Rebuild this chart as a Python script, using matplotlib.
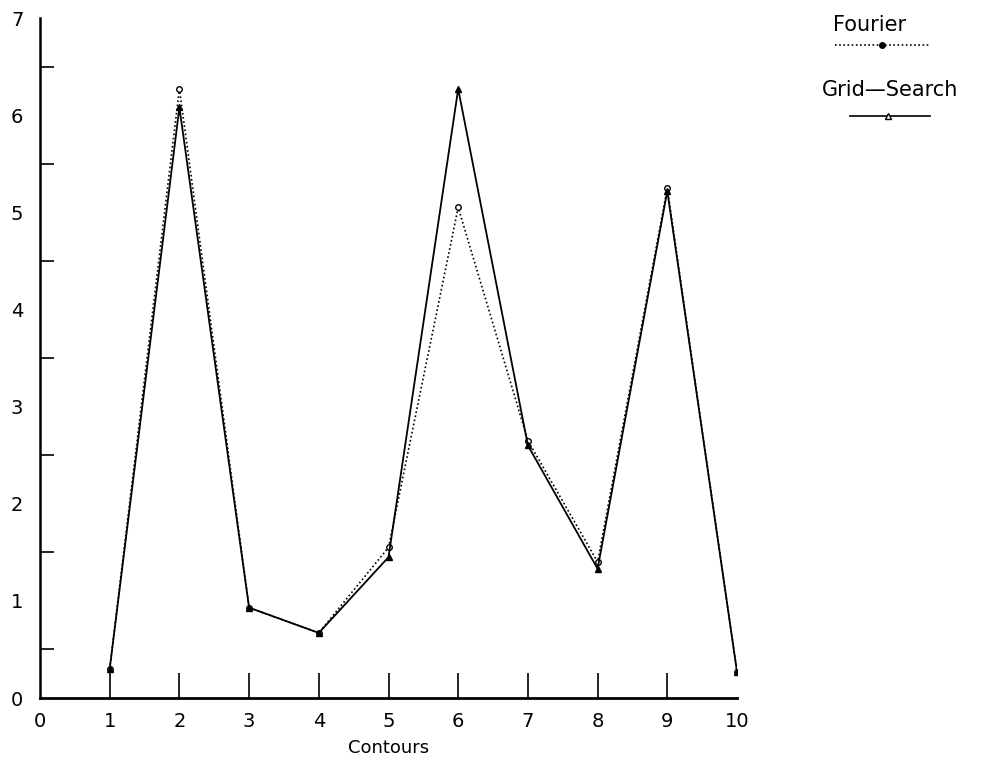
import matplotlib
matplotlib.use("Agg")
import matplotlib.pyplot as plt
from matplotlib.lines import Line2D

contours = [1, 2, 3, 4, 5, 6, 7, 8, 9, 10]
fourier = [0.30, 6.27, 0.93, 0.67, 1.55, 5.05, 2.65, 1.40, 5.25, 0.27]
grid_search = [0.30, 6.08, 0.93, 0.67, 1.45, 6.27, 2.60, 1.33, 5.22, 0.27]
x_ticks = [0, 1, 2, 3, 4, 5, 6, 7, 8, 9, 10]
y_ticks = [0, 1, 2, 3, 4, 5, 6, 7]

plt.rcParams['font.family'] = ['DejaVu Sans']
fig = plt.figure(figsize=(9.82, 7.64), dpi=100)
ax = fig.add_axes([40/982, 66/764, 697/982, 680/764])

ax.plot(contours, fourier, linestyle=(0, (1, 1.5)), color='black', linewidth=1.2,
        marker='o', markersize=4, markerfacecolor='white', markeredgecolor='black')
ax.plot(contours, grid_search, linestyle='-', color='black', linewidth=1.3,
        marker='^', markersize=4, markerfacecolor='black', markeredgecolor='black')

ax.set_xlim(0, 10)
ax.set_ylim(0, 7)
for s in ['top', 'right']:
    ax.spines[s].set_visible(False)
ax.spines['left'].set_linewidth(1.8)
ax.spines['bottom'].set_linewidth(2.0)

ax.set_xticks(x_ticks)
ax.set_xticklabels([str(v) for v in x_ticks])
ax.set_yticks(y_ticks)
ax.set_yticklabels([str(v) for v in y_ticks])
ax.tick_params(axis='x', which='major', direction='in', length=18, width=1.2,
               labelsize=14, pad=10)
ax.tick_params(axis='y', which='major', length=0, labelsize=14, pad=12)
xt = ax.xaxis.get_major_ticks()
xt[0].tick1line.set_visible(False)
xt[-1].tick1line.set_visible(False)

ax.set_yticks([0.5, 1.5, 2.5, 3.5, 4.5, 5.5, 6.5], minor=True)
ax.tick_params(axis='y', which='minor', direction='in', length=10, width=1.2)

ax.set_xlabel('Contours', fontsize=13, labelpad=6)

# legend
fig.text(870/982, 1 - 25/764, 'Fourier', ha='center', va='center', fontsize=15)
fig.add_artist(Line2D([835/982, 930/982], [1 - 45/764, 1 - 45/764], transform=fig.transFigure,
                      color='black', linestyle=(0, (1, 1.5)), linewidth=1.2))
fig.add_artist(Line2D([882/982], [1 - 45/764], transform=fig.transFigure, color='black',
                      marker='o', markersize=4, markerfacecolor='black'))
fig.text(890/982, 1 - 90/764, 'Grid\u2014Search', ha='center', va='center', fontsize=15)
fig.add_artist(Line2D([850/982, 930/982], [1 - 116/764, 1 - 116/764], transform=fig.transFigure,
                      color='black', linestyle='-', linewidth=1.2))
fig.add_artist(Line2D([888/982], [1 - 116/764], transform=fig.transFigure, color='black',
                      marker='^', markersize=4, markerfacecolor='white'))

fig.savefig('out.png', dpi=100)
